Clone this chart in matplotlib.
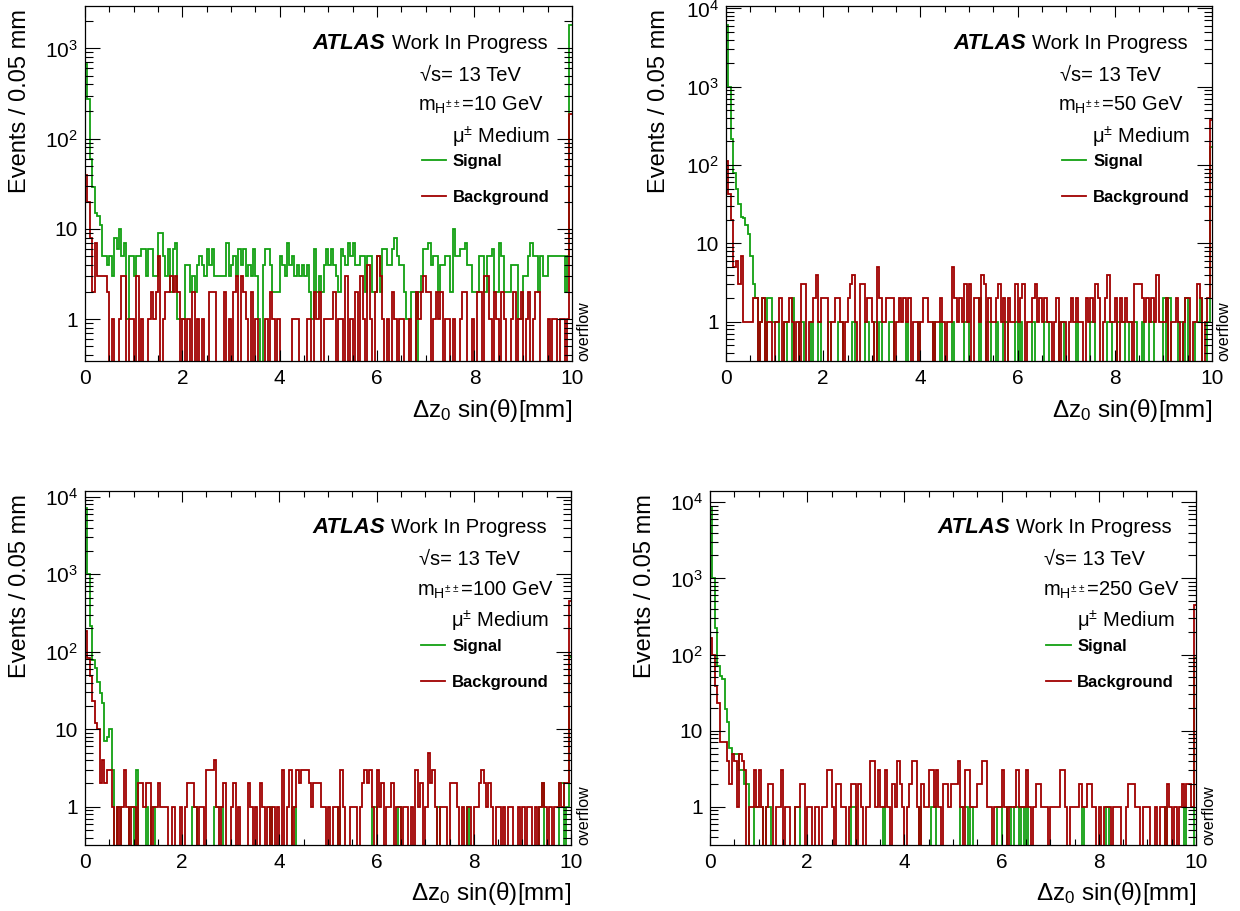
import numpy as np
import matplotlib
matplotlib.use('Agg')
import matplotlib.pyplot as plt
from matplotlib.ticker import LogLocator, MultipleLocator, FuncFormatter, NullFormatter
from matplotlib.lines import Line2D

# =============================================================================
# DATA: counts per 0.05 mm bin (200 bins, last bin carries the overflow)
# =============================================================================
x_min, x_max, n_bins = 0.0, 10.0, 200

mass_labels = ['10', '50', '100', '250']

sig_10 = [
    665, 275, 59, 29, 15, 14, 11, 5, 5, 4, 5, 3, 8, 6, 10, 5, 7, 1, 5, 5,
    3, 5, 5, 6, 6, 3, 6, 6, 3, 3, 9, 9, 5, 3, 6, 2, 6, 7, 1, 1,
    1, 4, 4, 2, 3, 2, 4, 5, 4, 3, 6, 4, 6, 3, 3, 3, 3, 3, 7, 3,
    4, 5, 3, 6, 4, 6, 3, 4, 3, 6, 3, 1, 0, 4, 6, 6, 4, 2, 2, 2,
    5, 4, 3, 7, 4, 5, 3, 4, 3, 4, 3, 4, 2, 1, 6, 2, 3, 2, 4, 6,
    4, 6, 4, 3, 2, 6, 5, 4, 7, 5, 7, 4, 4, 5, 5, 2, 5, 5, 2, 2,
    5, 2, 6, 6, 4, 4, 6, 8, 5, 4, 4, 2, 1, 1, 2, 2, 0, 2, 3, 6,
    6, 7, 4, 5, 5, 2, 4, 4, 5, 5, 2, 10, 5, 5, 6, 6, 7, 4, 4, 2,
    2, 2, 5, 5, 2, 5, 5, 6, 2, 2, 7, 5, 2, 2, 2, 4, 4, 4, 1, 1,
    3, 3, 5, 7, 5, 5, 2, 5, 3, 3, 5, 5, 5, 5, 5, 5, 5, 2, 5, 1800,
]
bkg_10 = [
    40, 20, 8, 2, 7, 3, 3, 3, 3, 2, 0, 1, 0, 0, 1, 3, 3, 0, 1, 1,
    0, 3, 0, 1, 0, 0, 1, 2, 1, 2, 5, 0, 1, 2, 2, 3, 2, 3, 2, 0,
    1, 0, 1, 0, 2, 0, 1, 0, 1, 0, 0, 2, 2, 2, 0, 0, 0, 2, 0, 1,
    0, 2, 3, 0, 3, 2, 1, 0, 2, 0, 1, 0, 0, 0, 1, 0, 2, 1, 0, 1,
    0, 0, 0, 0, 0, 1, 1, 1, 0, 0, 0, 1, 1, 0, 2, 1, 2, 0, 1, 1,
    1, 1, 2, 0, 1, 1, 0, 3, 0, 1, 0, 2, 0, 3, 1, 0, 4, 1, 0, 2,
    5, 3, 1, 0, 1, 0, 2, 1, 0, 1, 1, 0, 0, 1, 0, 0, 2, 1, 2, 3,
    2, 2, 0, 1, 2, 1, 2, 0, 1, 1, 0, 1, 0, 0, 1, 2, 2, 0, 0, 1,
    0, 2, 2, 0, 3, 3, 1, 0, 2, 1, 0, 2, 1, 0, 0, 1, 2, 0, 1, 2,
    0, 1, 2, 0, 1, 2, 2, 0, 0, 0, 1, 0, 1, 1, 0, 1, 1, 0, 1, 190,
]

sig_50 = [
    6100, 980, 213, 78, 49, 32, 22, 21, 17, 13, 7, 3, 2, 0, 1, 2, 0, 2, 2, 1,
    1, 1, 0, 0, 1, 0, 0, 2, 0, 0, 1, 1, 0, 0, 0, 1, 0, 0, 1, 0,
    0, 0, 1, 0, 0, 0, 1, 1, 0, 0, 0, 0, 1, 0, 0, 0, 0, 1, 1, 0,
    0, 1, 0, 1, 0, 0, 0, 1, 1, 0, 0, 0, 0, 0, 1, 0, 0, 0, 0, 1,
    0, 0, 0, 0, 0, 1, 0, 0, 1, 0, 0, 0, 0, 1, 0, 0, 0, 0, 1, 1,
    0, 0, 0, 0, 2, 0, 0, 1, 1, 0, 0, 1, 0, 0, 1, 1, 0, 0, 0, 1,
    0, 1, 0, 0, 0, 0, 1, 0, 0, 0, 0, 1, 1, 0, 0, 0, 0, 1, 1, 0,
    0, 0, 0, 0, 1, 0, 0, 0, 0, 0, 1, 1, 0, 0, 0, 0, 0, 1, 1, 0,
    0, 1, 1, 1, 0, 0, 1, 1, 1, 0, 0, 1, 0, 0, 1, 1, 0, 0, 0, 0,
    2, 0, 2, 0, 0, 0, 1, 1, 0, 2, 0, 0, 0, 1, 1, 2, 0, 0, 1, 170,
]
bkg_50 = [
    112, 43, 20, 5, 6, 3, 7, 1, 1, 1, 1, 2, 2, 0, 1, 2, 0, 1, 1, 0,
    1, 1, 2, 0, 1, 1, 2, 1, 0, 1, 0, 3, 3, 0, 1, 1, 2, 4, 1, 2,
    2, 2, 0, 1, 1, 2, 2, 1, 0, 1, 2, 3, 4, 1, 0, 3, 3, 1, 2, 2,
    1, 0, 5, 2, 1, 1, 2, 2, 2, 0, 1, 2, 1, 2, 1, 2, 0, 1, 1, 0,
    1, 2, 2, 1, 1, 0, 1, 1, 2, 1, 0, 1, 1, 5, 2, 1, 2, 1, 3, 1,
    3, 0, 2, 2, 1, 4, 3, 0, 2, 1, 1, 2, 3, 1, 2, 0, 2, 1, 1, 3,
    1, 2, 3, 0, 1, 1, 2, 3, 1, 2, 1, 2, 1, 1, 0, 1, 2, 0, 1, 1,
    0, 1, 2, 1, 2, 1, 1, 0, 2, 1, 2, 1, 3, 2, 0, 1, 2, 4, 1, 1,
    2, 0, 2, 1, 2, 1, 1, 0, 3, 3, 3, 2, 1, 2, 1, 2, 1, 4, 1, 1,
    1, 2, 0, 1, 1, 2, 1, 0, 1, 2, 2, 0, 1, 1, 3, 2, 0, 1, 2, 380,
]

sig_100 = [
    7100, 1000, 213, 79, 62, 41, 29, 22, 7, 8, 10, 3, 0, 1, 1, 0, 0, 0, 1, 1,
    0, 3, 0, 0, 0, 1, 0, 1, 1, 0, 0, 0, 0, 0, 0, 0, 0, 0, 0, 0,
    0, 0, 0, 0, 1, 1, 0, 0, 0, 0, 0, 0, 0, 1, 1, 1, 1, 0, 0, 0,
    0, 0, 0, 0, 0, 0, 0, 0, 0, 0, 0, 0, 0, 0, 0, 0, 1, 0, 0, 0,
    0, 0, 0, 0, 0, 1, 1, 0, 0, 0, 0, 0, 0, 0, 0, 0, 0, 0, 0, 0,
    0, 0, 0, 0, 1, 0, 0, 0, 0, 0, 0, 0, 0, 0, 0, 0, 0, 0, 1, 1,
    0, 0, 0, 0, 0, 0, 0, 0, 0, 1, 0, 0, 0, 0, 0, 0, 0, 0, 0, 0,
    0, 0, 0, 0, 0, 1, 0, 0, 0, 0, 0, 0, 0, 0, 0, 0, 0, 1, 0, 0,
    0, 0, 0, 0, 0, 0, 0, 0, 0, 0, 0, 0, 0, 0, 0, 0, 0, 0, 0, 0,
    0, 0, 0, 0, 0, 0, 0, 1, 2, 0, 0, 0, 0, 0, 0, 2, 2, 0, 1, 85,
]
bkg_100 = [
    187, 83, 48, 23, 12, 10, 2, 4, 2, 3, 3, 1, 0, 1, 0, 1, 3, 1, 0, 1,
    1, 0, 2, 2, 1, 2, 2, 0, 1, 1, 2, 1, 1, 1, 0, 0, 1, 0, 0, 1,
    0, 1, 2, 2, 2, 1, 0, 1, 1, 0, 3, 3, 3, 4, 1, 0, 1, 2, 0, 0,
    1, 2, 0, 1, 0, 0, 0, 2, 1, 0, 1, 0, 2, 1, 0, 1, 0, 1, 0, 1,
    0, 3, 0, 1, 3, 0, 1, 3, 2, 3, 3, 3, 2, 1, 2, 2, 2, 1, 1, 0,
    1, 0, 1, 1, 0, 3, 1, 0, 0, 1, 1, 1, 0, 1, 2, 3, 2, 3, 1, 0,
    3, 1, 2, 0, 1, 1, 2, 0, 1, 1, 0, 1, 1, 0, 1, 0, 3, 1, 2, 0,
    1, 5, 2, 3, 1, 0, 1, 1, 1, 0, 2, 2, 2, 1, 0, 1, 0, 1, 1, 0,
    1, 1, 2, 3, 2, 1, 2, 1, 0, 1, 1, 0, 1, 0, 1, 1, 0, 0, 1, 0,
    1, 0, 1, 1, 0, 1, 0, 1, 2, 1, 0, 1, 0, 1, 1, 2, 1, 2, 2, 450,
]

sig_250 = [
    8300, 1000, 220, 71, 52, 47, 19, 13, 6, 5, 5, 5, 3, 3, 2, 2, 0, 0, 1, 1,
    1, 1, 0, 1, 1, 0, 0, 0, 0, 0, 0, 0, 0, 0, 0, 1, 1, 0, 0, 0,
    0, 0, 0, 0, 0, 0, 0, 0, 0, 0, 0, 0, 0, 0, 0, 0, 0, 0, 1, 1,
    0, 0, 0, 0, 0, 0, 0, 0, 0, 0, 0, 1, 0, 0, 0, 0, 0, 0, 0, 0,
    0, 0, 0, 0, 0, 0, 1, 0, 0, 0, 0, 1, 1, 0, 0, 0, 0, 0, 0, 0,
    0, 0, 0, 1, 1, 1, 0, 1, 0, 0, 0, 0, 0, 0, 0, 0, 0, 0, 1, 1,
    0, 0, 1, 1, 0, 1, 1, 0, 1, 0, 1, 0, 0, 0, 0, 0, 0, 0, 0, 0,
    0, 0, 0, 0, 0, 0, 0, 0, 0, 0, 0, 0, 0, 1, 0, 0, 0, 0, 0, 0,
    0, 0, 0, 1, 0, 0, 0, 0, 0, 0, 0, 0, 0, 0, 0, 0, 0, 0, 0, 0,
    0, 0, 0, 0, 0, 0, 0, 1, 0, 0, 0, 0, 0, 0, 0, 1, 0, 0, 0, 91,
]
bkg_250 = [
    163, 100, 38, 23, 7, 7, 7, 4, 2, 5, 4, 1, 5, 4, 3, 0, 1, 1, 3, 1,
    3, 1, 0, 1, 2, 2, 0, 1, 1, 3, 0, 1, 1, 0, 0, 1, 1, 2, 2, 0,
    1, 1, 0, 1, 1, 0, 1, 1, 3, 3, 1, 0, 2, 2, 1, 1, 0, 1, 2, 2,
    0, 2, 1, 0, 1, 1, 4, 4, 1, 3, 1, 1, 3, 1, 0, 2, 1, 4, 2, 1,
    0, 1, 2, 4, 4, 1, 0, 2, 1, 1, 3, 3, 1, 3, 1, 0, 2, 2, 1, 2,
    2, 2, 4, 1, 0, 3, 3, 1, 1, 1, 2, 2, 4, 4, 1, 1, 0, 1, 1, 1,
    3, 1, 0, 1, 1, 1, 3, 1, 1, 1, 3, 1, 0, 1, 2, 2, 1, 1, 1, 0,
    1, 1, 1, 1, 3, 3, 1, 0, 1, 1, 1, 1, 2, 1, 1, 2, 2, 1, 1, 0,
    1, 0, 1, 1, 1, 0, 1, 1, 1, 0, 0, 1, 2, 2, 2, 1, 1, 0, 1, 1,
    1, 0, 0, 1, 0, 1, 1, 0, 2, 1, 0, 1, 0, 1, 2, 1, 2, 2, 1, 450,
]

signals = [sig_10, sig_50, sig_100, sig_250]
backgrounds = [bkg_10, bkg_50, bkg_100, bkg_250]
y_ranges = [(0.345, 2965), (0.315, 10800), (0.32, 12000), (0.314, 14200)]

# =============================================================================
# STYLE
# =============================================================================
SIG_COLOR = '#12a012'
BKG_COLOR = '#a00000'
FONT = 'Liberation Sans'
plt.rcParams['font.family'] = [FONT, 'DejaVu Sans']
plt.rcParams['mathtext.fontset'] = 'custom'
plt.rcParams['mathtext.rm'] = FONT
plt.rcParams['mathtext.it'] = FONT + ':italic'
plt.rcParams['mathtext.bf'] = FONT + ':bold'

# axes rectangles in figure fraction (left, bottom, width, height)
panel_rects = [
    (0.0685, 0.6037, 0.3927, 0.3900),
    (0.5855, 0.6037, 0.3919, 0.3900),
    (0.0685, 0.0724, 0.3920, 0.3890),
    (0.5726, 0.0724, 0.3920, 0.3890),
]
ylabel_x = [-0.111, -0.115, -0.111, -0.111]


def log_label(v, pos):
    if v <= 0:
        return ''
    e = int(round(np.log10(v)))
    if abs(v - 10.0 ** e) > 1e-6 * v:
        return ''
    if e == 0:
        return '1'
    if e == 1:
        return '10'
    return r'$10^{%d}$' % e


def draw_panel(ax, sig, bkg, mass, yr, ylx):
    edges = np.linspace(x_min, x_max, n_bins + 1)
    # empty bins are pushed below the axis so the step drops to the frame
    s = np.clip(np.array(sig, dtype=float), 1e-3, None)
    b = np.clip(np.array(bkg, dtype=float), 1e-3, None)
    ax.stairs(s, edges, color=SIG_COLOR, linewidth=1.3, baseline=None)
    ax.stairs(b, edges, color=BKG_COLOR, linewidth=1.3, baseline=None)

    ax.set_yscale('log')
    ax.set_xlim(x_min, x_max)
    ax.set_ylim(*yr)

    ax.xaxis.set_major_locator(MultipleLocator(2))
    ax.xaxis.set_minor_locator(MultipleLocator(0.5))
    ax.yaxis.set_major_locator(LogLocator(base=10, numticks=20))
    ax.yaxis.set_minor_locator(LogLocator(base=10, subs=np.arange(2, 10), numticks=20))
    ax.yaxis.set_major_formatter(FuncFormatter(log_label))
    ax.yaxis.set_minor_formatter(NullFormatter())

    ax.tick_params(which='both', direction='in', top=True, right=True,
                   width=0.8, labelsize=15)
    ax.tick_params(axis='x', which='major', length=8, pad=6)
    ax.tick_params(axis='x', which='minor', length=4.3)
    ax.tick_params(axis='y', which='major', length=11, pad=5)
    ax.tick_params(axis='y', which='minor', length=5.5)
    for sp in ax.spines.values():
        sp.set_linewidth(0.9)

    ax.set_xlabel('Δz$_0$ sin(θ)[mm]', fontsize=17.5, loc='right')
    ax.xaxis.set_label_coords(1.0, -0.1)
    ax.set_ylabel('Events / 0.05 mm', fontsize=17, loc='top')
    ax.yaxis.set_label_coords(ylx, 0.99)

    tkw = dict(transform=ax.transAxes, fontsize=14.5, va='center', ha='left')
    ax.text(0.468, 0.895, 'ATLAS', fontweight='bold', style='italic',
            transform=ax.transAxes, fontsize=16, va='center', ha='left')
    ax.text(0.630, 0.895, 'Work In Progress', **tkw)
    ax.text(0.688, 0.805, '√s= 13 TeV', **tkw)
    ax.text(0.684, 0.720, r'm$_{\mathrm{H}^{\pm\,\pm}}$=' + mass + ' GeV', **tkw)
    ax.text(0.754, 0.630, r'μ$^{\pm}$ Medium', **tkw)

    ax.text(1.01, 0.0, 'overflow', transform=ax.transAxes, rotation=90,
            ha='left', va='bottom', fontsize=11.5)

    handles = [Line2D([], [], color=SIG_COLOR, linewidth=1.3),
               Line2D([], [], color=BKG_COLOR, linewidth=1.3)]
    ax.legend(handles, ['Signal', 'Background'], loc='upper left',
              bbox_to_anchor=(0.692, 0.582), frameon=False,
              prop=dict(family=FONT, weight='bold', size=12),
              handlelength=1.45, handletextpad=0.4, labelspacing=1.25,
              borderpad=0, borderaxespad=0)


fig = plt.figure(figsize=(12.4, 9.11), dpi=100)
for i in range(4):
    ax = fig.add_axes(panel_rects[i])
    draw_panel(ax, signals[i], backgrounds[i], mass_labels[i], y_ranges[i], ylabel_x[i])

fig.savefig('out.png', dpi=100)
